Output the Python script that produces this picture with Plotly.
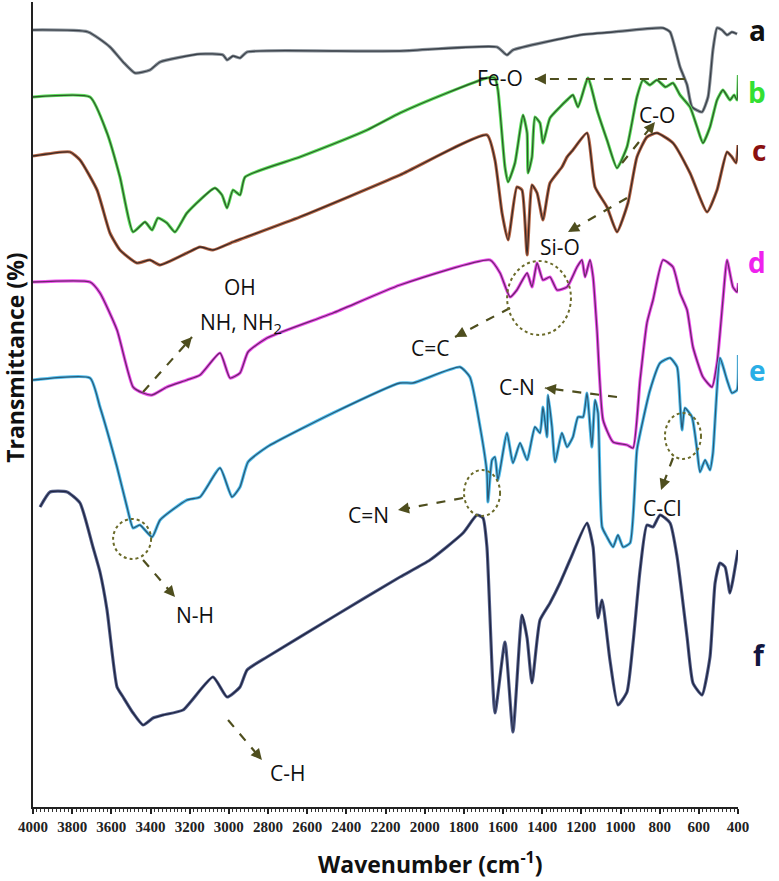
import math
import plotly.graph_objects as go

# ---------------- data (wavenumber in cm-1, transmittance in arbitrary stacked units) -------------
wn_a = [4000, 3719, 3607, 3540, 3479, 3403, 3351, 3147, 3030, 3009, 2979, 2943, 2907, 2468, 2126,
        1631, 1580, 1549, 1207, 1038, 783, 747, 696, 660, 635, 584, 553, 528, 507, 482, 456, 431, 405]
t_a = [777, 775, 760, 745, 734, 737, 745, 753, 752, 747, 751, 749, 755, 756, 756,
       760, 752, 757, 772, 775, 779, 775, 740, 722, 700, 695, 710, 757, 779, 777, 772, 775, 773]

wn_b = [4000, 3709, 3622, 3556, 3489, 3428, 3392, 3362, 3316, 3275, 3214, 3071, 3035, 3009, 2979,
        2943, 2917, 2637, 2294, 2126, 1886, 1682, 1641, 1626, 1590, 1574, 1539, 1498, 1477, 1472,
        1452, 1437, 1411, 1396, 1360, 1309, 1273, 1243, 1217, 1166, 1120, 1069, 1018, 967, 916,
        885, 850, 814, 770, 732, 696, 645, 609, 579, 543, 507, 477, 441, 420, 405, 398]
t_b = [710, 710, 674, 630, 575, 585, 577, 589, 584, 575, 594, 619, 612, 599, 617,
       612, 630, 650, 677, 694, 714, 729, 729, 717, 640, 625, 644, 692, 674, 634,
       650, 690, 684, 664, 689, 700, 707, 712, 700, 729, 697, 667, 639, 660, 710,
       727, 722, 727, 720, 724, 712, 700, 680, 664, 680, 707, 717, 707, 712, 707, 732]

wn_c = [4000, 3811, 3760, 3673, 3607, 3556, 3469, 3403, 3351, 3214, 3147, 3081, 2979, 2637, 2126,
        1682, 1641, 1605, 1574, 1529, 1503, 1477, 1452, 1426, 1396, 1360, 1299, 1273, 1243, 1171,
        1130, 1069, 1018, 962, 916, 865, 814, 732, 645, 558, 507, 456, 431, 410, 400]
t_c = [651, 655, 647, 617, 574, 557, 544, 547, 542, 554, 560, 557, 565, 590, 632,
       672, 647, 594, 567, 620, 617, 552, 622, 614, 587, 624, 640, 650, 657, 674,
       620, 600, 575, 604, 650, 670, 674, 664, 634, 595, 617, 655, 650, 644, 662]

wn_d = [4000, 3709, 3658, 3571, 3489, 3438, 3392, 3316, 3214, 3147, 3045, 2994, 2943, 2902, 2805,
        2468, 2126, 1666, 1615, 1564, 1529, 1477, 1452, 1426, 1396, 1360, 1324, 1273, 1222, 1197,
        1181, 1156, 1140, 1120, 1089, 1038, 967, 936, 900, 865, 834, 783, 732, 696, 660, 630,
        579, 533, 507, 477, 456, 426, 405, 398]
t_d = [525, 525, 514, 477, 420, 414, 412, 420, 427, 432, 454, 429, 434, 455, 469,
       494, 522, 547, 534, 510, 517, 534, 520, 544, 527, 530, 517, 520, 540, 547,
       530, 547, 530, 477, 387, 365, 362, 359, 427, 484, 507, 547, 540, 514, 497, 460,
       430, 420, 444, 507, 547, 520, 515, 524]

wn_e = [4000, 3709, 3658, 3571, 3520, 3489, 3454, 3392, 3351, 3214, 3147, 3045, 2984, 2943, 2902,
        2805, 2468, 2126, 2060, 1820, 1769, 1717, 1682, 1677, 1656, 1641, 1626, 1580, 1549, 1513,
        1477, 1437, 1411, 1396, 1375, 1370, 1350, 1334, 1299, 1273, 1243, 1217, 1191, 1171, 1146,
        1130, 1115, 1094, 1069, 1038, 1013, 987, 951, 916, 885, 849, 798, 747, 711, 696, 686,
        671, 635, 609, 594, 568, 543, 528, 492, 456, 431, 405, 398]
t_e = [427, 429, 400, 340, 300, 279, 282, 270, 287, 307, 310, 339, 310, 320, 345,
       360, 394, 424, 424, 440, 430, 380, 334, 305, 347, 350, 327, 374, 344, 364,
       347, 380, 374, 400, 370, 412, 380, 345, 374, 360, 370, 390, 390, 414, 360,
       407, 394, 280, 270, 260, 272, 260, 264, 357, 387, 417, 444, 449, 440, 404, 377,
       399, 390, 357, 335, 347, 337, 354, 449, 427, 414, 417, 452]

wn_f = [3964, 3913, 3826, 3760, 3694, 3658, 3622, 3571, 3540, 3489, 3438, 3387, 3336, 3234, 3081,
        3009, 2943, 2907, 2805, 2468, 2126, 1973, 1804, 1733, 1702, 1682, 1641, 1590, 1549, 1503,
        1477, 1452, 1411, 1360, 1309, 1258, 1171, 1140, 1130, 1115, 1094, 1054, 1013, 967, 936,
        900, 865, 834, 798, 747, 711, 660, 630, 584, 543, 517, 492, 466, 441, 426, 400]
t_f = [300, 315, 315, 304, 260, 235, 197, 120, 110, 94, 82, 89, 92, 97, 130,
       110, 120, 137, 150, 190, 230, 247, 274, 292, 289, 260, 94, 165, 75, 192,
       169, 124, 187, 204, 224, 247, 284, 260, 230, 189, 207, 147, 102, 115, 164,
       237, 282, 280, 292, 284, 250, 170, 124, 112, 150, 224, 244, 240, 214, 227, 257]

series_names = ["a", "b", "c", "d", "e", "f"]
label_colors = ["#111111", "#33e033", "#8a1010", "#ee22ee", "#2aaee6", "#12163f"]
label_levels = [777, 715, 657, 545, 437, 152]

# annotation texts, positions and arrows (data coordinates)
note_texts = ["Fe-O", "C-O", "Si-O", "C=C", "C-N", "C=N", "C-Cl", "OH", "NH, NH<sub>2</sub>", "N-H", "C-H"]
note_x = [1615, 814, 1309, 1973, 1528, 2289, 788, 2943, 2938, 3173, 2703]
note_y = [729, 692, 560, 459, 420, 292, 299, 520, 484, 192, 34]

arrow_start_x = [671, 992, 967, 1564, 1018, 1804, 732, 3438, 3438, 3004]
arrow_start_y = [728, 644, 609, 499, 410, 309, 349, 415, 247, 87]
arrow_end_x = [1437, 824, 1268, 1845, 1386, 2136, 793, 3188, 3275, 2831]
arrow_end_y = [728, 685, 575, 470, 419, 297, 317, 470, 210, 47]

circle_x0 = [1579, 1799, 773, 3591]
circle_x1 = [1253, 1615, 589, 3397]
circle_y0 = [472, 291, 348, 248]
circle_y1 = [546, 337, 394, 288]

X_RANGE = [4000, 400]
Y_RANGE = [0, 805]
MARGIN = dict(l=33, r=41, t=2, b=74)
W, H = 779, 881

# ---------------- figure -------------
fig = go.Figure()
all_wn = [wn_a, wn_b, wn_c, wn_d, wn_e, wn_f]
all_t = [t_a, t_b, t_c, t_d, t_e, t_f]
halo_colors = ["#8a929a", "#5ee05e", "#b86848", "#f050f0", "#55c0ee", "#55608a"]
core_colors = ["#3a4048", "#2f5a2a", "#3a2a26", "#6a2a6a", "#2a5a78", "#1e2440"]

for wn, t, hc, cc, nm in zip(all_wn, all_t, halo_colors, core_colors, series_names):
    fig.add_trace(go.Scatter(x=wn, y=t, mode="lines",
                             line=dict(color=hc, width=3.2, shape="spline", smoothing=0.5),
                             hoverinfo="skip", showlegend=False))
    fig.add_trace(go.Scatter(x=wn, y=t, mode="lines", name=nm,
                             line=dict(color=cc, width=1.3, shape="spline", smoothing=0.5),
                             showlegend=False))

# pixel scale factors (for orienting arrowheads)
plot_w = W - MARGIN["l"] - MARGIN["r"]
plot_h = H - MARGIN["t"] - MARGIN["b"]
sx = plot_w / (X_RANGE[1] - X_RANGE[0])
sy = -plot_h / (Y_RANGE[1] - Y_RANGE[0])

arrow_color = "#4e4e1e"
for x0, y0, x1, y1 in zip(arrow_start_x, arrow_start_y, arrow_end_x, arrow_end_y):
    fig.add_shape(type="line", xref="x", yref="y", x0=x0, y0=y0, x1=x1, y1=y1,
                  line=dict(color=arrow_color, width=2.2, dash="dash"))
    dx = (x0 - x1) * sx
    dy = (y0 - y1) * sy
    ln = math.hypot(dx, dy)
    fig.add_annotation(x=x1, y=y1, ax=dx / ln * 11, ay=dy / ln * 11, xref="x", yref="y",
                       axref="pixel", ayref="pixel",
                       text="", showarrow=True, arrowhead=2, arrowsize=1.1, arrowwidth=2,
                       arrowcolor=arrow_color, standoff=0, startstandoff=0)

for x0, x1, y0, y1 in zip(circle_x0, circle_x1, circle_y0, circle_y1):
    fig.add_shape(type="circle", xref="x", yref="y", x0=x0, x1=x1, y0=y0, y1=y1,
                  line=dict(color="#6b6b2a", width=2, dash="dot"))

for txt, x, y in zip(note_texts, note_x, note_y):
    fig.add_annotation(x=x, y=y, xref="x", yref="y", text=txt, showarrow=False,
                       font=dict(family="Open Sans", size=21, color="#111111"))

for nm, col, lv in zip(series_names, label_colors, label_levels):
    fig.add_annotation(x=1.043, y=lv, xref="paper", yref="y", text=nm, showarrow=False,
                       font=dict(family="Open Sans", size=28, color=col, weight="bold"))

fig.add_annotation(x=0.564, y=-0.07, xref="paper", yref="paper", text="Wavenumber (cm<sup>-1</sup>)",
                   showarrow=False, yanchor="middle",
                   font=dict(family="Open Sans", size=23, color="#111111", weight="bold"))
fig.add_annotation(x=-0.0255, y=0.558, xref="paper", yref="paper", text="Transmittance (%)",
                   showarrow=False, textangle=-90, xanchor="center", yanchor="middle",
                   font=dict(family="Open Sans", size=23, color="#111111", weight="bold"))

fig.update_layout(
    width=W, height=H,
    margin=dict(**MARGIN, autoexpand=False),
    paper_bgcolor="white", plot_bgcolor="white",
    showlegend=False,
    xaxis=dict(range=X_RANGE, tick0=400, dtick=200, showgrid=False, zeroline=False,
               automargin=False,
               showline=True, linecolor="#222222", linewidth=1.5,
               ticks="outside", ticklen=5, tickwidth=1.5, tickcolor="#222222",
               minor=dict(dtick=20, ticks="outside", ticklen=3, tickwidth=1, tickcolor="#333333"),
               tickfont=dict(family="Liberation Serif", size=15, color="#222222", weight="bold")),
    yaxis=dict(range=Y_RANGE, showgrid=False, zeroline=False, showticklabels=False,
               automargin=False,
               showline=True, linecolor="#222222", linewidth=1.5, ticks=""),
)

fig.write_html("out.html", config={"displayModeBar": False},
               post_script="document.body.style.margin='0';")
